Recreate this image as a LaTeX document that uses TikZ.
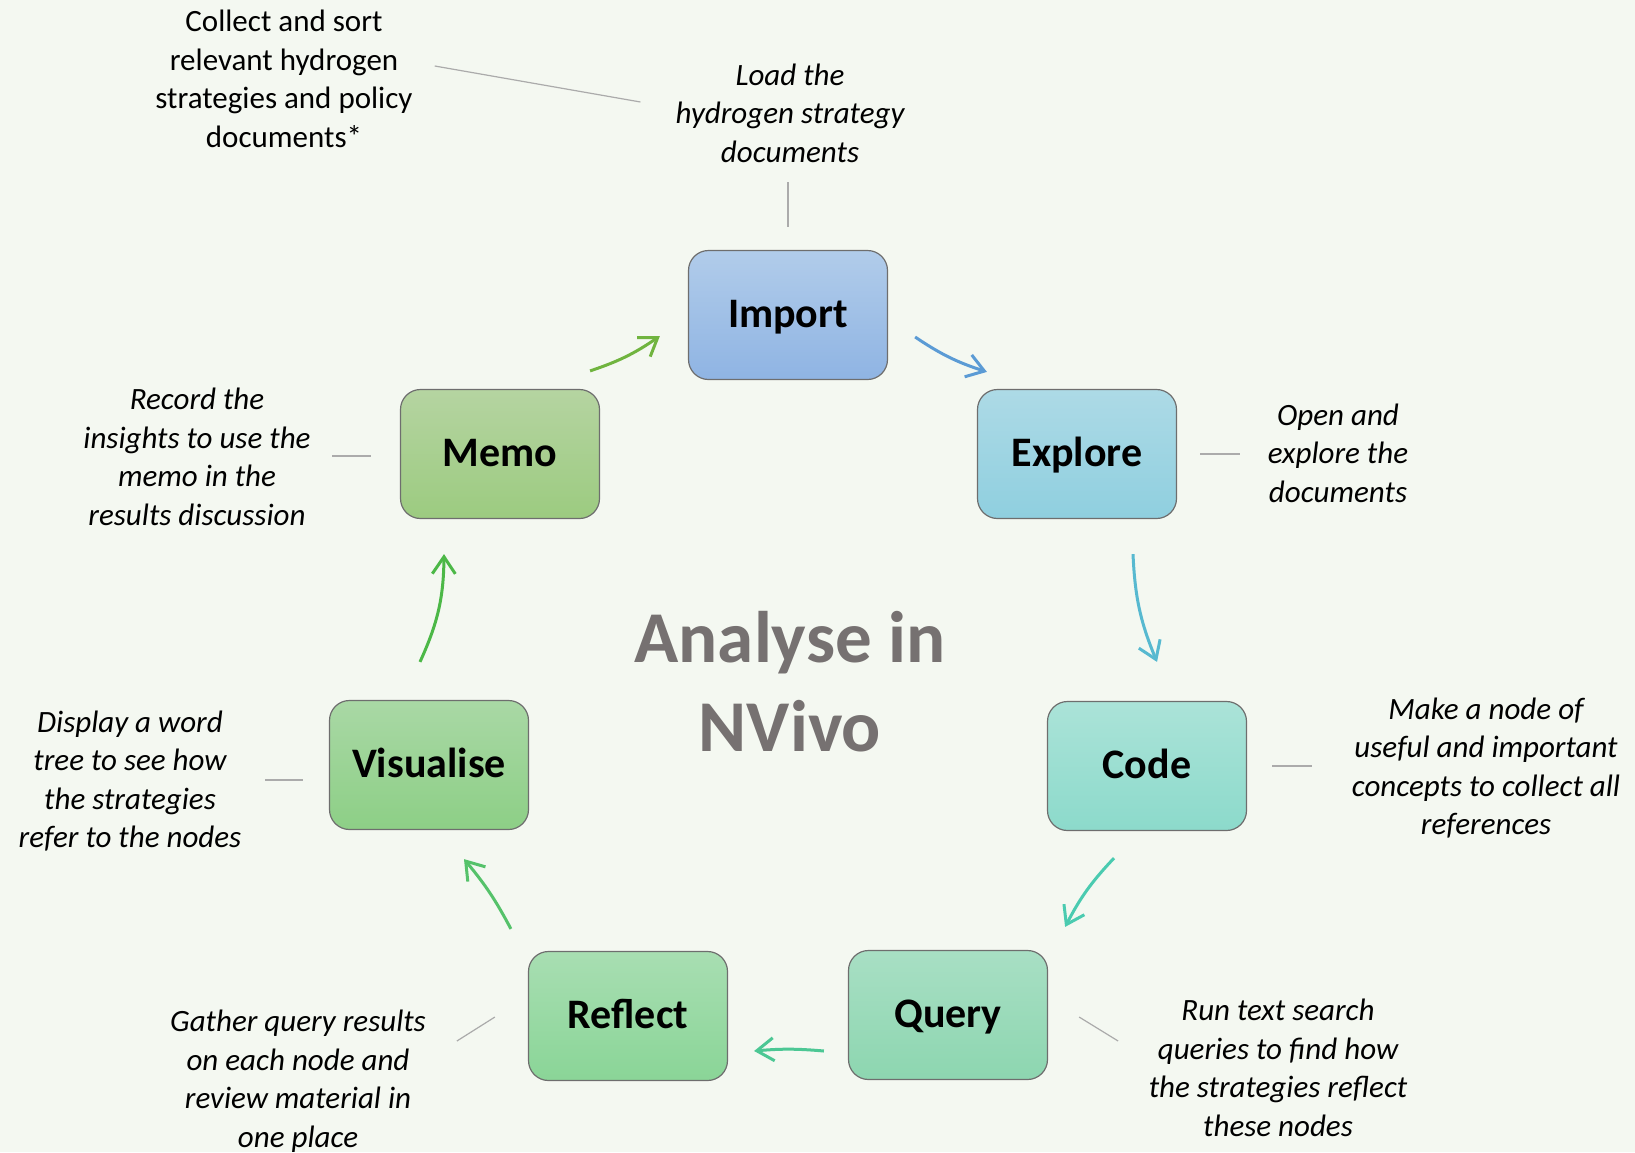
\documentclass[tikz,border=0pt]{standalone}
\usepackage{fontspec}
\setmainfont{Carlito}
\usetikzlibrary{arrows.meta}
\definecolor{bg}{HTML}{F4F8F1}
\definecolor{boxline}{HTML}{6E6E6E}
\definecolor{leadgray}{HTML}{ABABAB}
\definecolor{titlegray}{HTML}{767171}
\definecolor{importtop}{HTML}{B1CCEA}\definecolor{importbot}{HTML}{8FB4E3}
\definecolor{exploretop}{HTML}{ADDAE6}\definecolor{explorebot}{HTML}{8FCFDF}
\definecolor{codetop}{HTML}{ABE3D8}\definecolor{codebot}{HTML}{8CDACB}
\definecolor{querytop}{HTML}{A8DFC4}\definecolor{querybot}{HTML}{8DD6B0}
\definecolor{reflecttop}{HTML}{A8DEB2}\definecolor{reflectbot}{HTML}{8AD597}
\definecolor{visualtop}{HTML}{A9D8A5}\definecolor{visualbot}{HTML}{8DCF86}
\definecolor{memotop}{HTML}{B5D4A1}\definecolor{memobot}{HTML}{9CCB80}
\definecolor{arrmemo}{HTML}{70B43F}
\definecolor{arrimport}{HTML}{5B9BD5}
\definecolor{arrexplore}{HTML}{57B9D0}
\definecolor{arrcode}{HTML}{4ACBB0}
\definecolor{arrquery}{HTML}{4CC794}
\definecolor{arrreflect}{HTML}{55C26A}
\definecolor{arrvisual}{HTML}{4CB847}
\begin{document}
\begin{tikzpicture}[x=1pt,y=-1pt,
box/.style={draw=boxline,line width=1.2pt,rounded corners=20pt,minimum width=199pt,minimum height=129pt,text height=30pt,text depth=6pt,font=\fontsize{42}{50}\selectfont\bfseries},
note/.style={align=center,inner sep=0pt,font=\fontsize{31}{38.5}\selectfont\itshape},
lead/.style={draw=leadgray,line width=1.2pt},
flow/.style={line width=3pt,-{Straight Barb[length=17pt,width=23pt]}}]
\fill[bg](0,0)rectangle(1635,1152);
\useasboundingbox(0,0)rectangle(1635,1152);
\node[box,top color=importtop,bottom color=importbot](import)at(788,315){Import};
\node[box,top color=exploretop,bottom color=explorebot](explore)at(1077,454){Explore};
\node[box,top color=codetop,bottom color=codebot](code)at(1147,766){Code};
\node[box,top color=querytop,bottom color=querybot](query)at(948,1015){Query};
\node[box,top color=reflecttop,bottom color=reflectbot](reflect)at(628,1016){Reflect};
\node[box,top color=visualtop,bottom color=visualbot](visualise)at(429,765){Visualise};
\node[box,top color=memotop,bottom color=memobot](memo)at(500,454){Memo};
\node[text=titlegray,align=center,font=\fontsize{73}{89}\selectfont\bfseries](title)at(790,682){Analyse in\\NVivo};
\node[note,font=\fontsize{31}{38.5}\selectfont\upshape](collect)at(284,79){Collect and sort\\relevant hydrogen\\strategies and policy\\documents*};
\node[note](loadtxt)at(790,113){Load the\\hydrogen strategy\\documents};
\node[note](opentxt)at(1338,453){Open and\\explore the\\documents};
\node[note](maketxt)at(1486,768){Make a node of\\useful and important\\concepts to collect all\\references};
\node[note](runtxt)at(1278,1068){Run text search\\queries to find how\\the strategies reflect\\these nodes};
\node[note](gathertxt)at(298,1081){Gather query results\\on each node and\\review material in\\one place};
\node[note](displaytxt)at(130,781){Display a word\\tree to see how\\the strategies\\refer to the nodes};
\node[note](recordtxt)at(197,457){Record the\\insights to use the\\memo in the\\results discussion};
\draw[lead]([shift={(22,-13)}]collect.east)--([shift={(-35,-11)}]loadtxt.west);
\draw[lead]([shift={(0,-23)}]import.north)--++(0,-45);
\draw[lead]([shift={(23,0)}]explore.east)--++(40,0);
\draw[lead]([shift={(25,0)}]code.east)--++(40,0);
\draw[lead]([shift={(31,2)}]query.east)--++(39,24);
\draw[lead]([shift={(-33,1)}]reflect.west)--++(-38,24);
\draw[lead]([shift={(-26,15)}]visualise.west)--++(-38,0);
\draw[lead]([shift={(-29,2)}]memo.west)--++(-39,0);
\draw[flow,arrmemo]([shift={(-10,-18)}]memo.north east)to[bend right=8]([shift={(-28,21)}]import.west);
\draw[flow,arrimport]([shift={(27,22)}]import.east)to[bend right=8]([shift={(10,-17)}]explore.north west);
\draw[flow,arrexplore]([shift={(56,35)}]explore.south)to[bend right=10]([shift={(10,-39)}]code.north);
\draw[flow,arrcode]([shift={(-33,27)}]code.south)to[bend right=8]([shift={(17,-23)}]query.north east);
\draw[flow,arrquery]([shift={(-24,36)}]query.west)to[bend right=5]([shift={(26,35)}]reflect.east);
\draw[flow,arrreflect]([shift={(-17,-22)}]reflect.north west)to[bend right=6]([shift={(35,29)}]visualise.south);
\draw[flow,arrvisual]([shift={(-9,-38)}]visualise.north)to[bend right=12]([shift={(-56,35)}]memo.south);
\end{tikzpicture}
\end{document}
